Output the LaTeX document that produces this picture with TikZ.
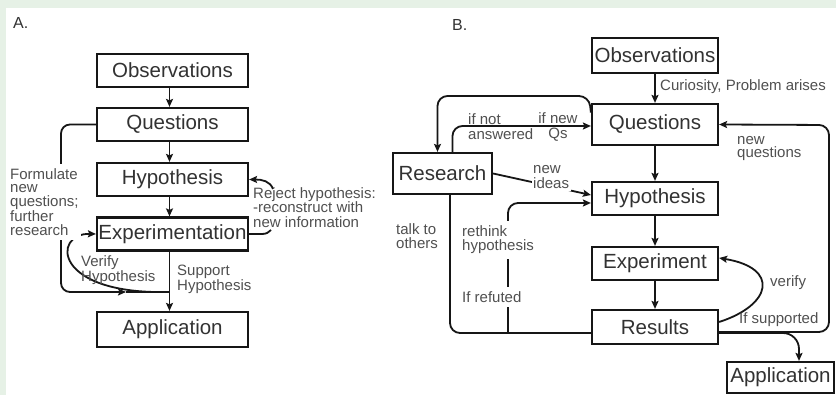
\documentclass[tikz,border=0pt]{standalone}
\usepackage{fontspec}
\setmainfont{Liberation Sans}
\usetikzlibrary{arrows.meta}
\definecolor{bgg}{RGB}{230,241,230}
\definecolor{ink}{RGB}{22,22,22}
\definecolor{txt}{RGB}{50,50,50}
\definecolor{lbl}{RGB}{80,80,80}
\begin{document}
\begin{tikzpicture}[x=1pt,y=-1pt,
  box/.style={draw=ink, line width=2.2pt, inner sep=0pt, font=\fontsize{20.5}{24}\selectfont, text=txt},
  abox/.style={box, minimum width=151, minimum height=33},
  bbox/.style={box, minimum width=126, minimum height=33},
  lab/.style={font=\fontsize{15}{13.8}\selectfont, text=lbl, align=left, inner sep=0pt, anchor=west},
  conn/.style={draw=ink, line width=1.8pt},
  arr/.style={conn, -{Stealth[length=8pt,width=7pt,inset=1.5pt]}},
]
\useasboundingbox (0,0) rectangle (836,395);
\fill[bgg] (0,0) rectangle (836,395);
\fill[white] (6,8) rectangle (836,395);

% ---------- Panel A ----------
\node[lab, text=txt, font=\fontsize{16}{18}\selectfont] (alab) at (13,23) {A.};
\node[abox] (aobs) at (172.5,70.5) {Observations};
\node[abox] (aq) at (172.5,124.5) {Questions};
\node[abox] (ah) at (172.5,179.5) {Hypothesis};
\node[abox] (aexp) at (172.5,234) {Experimentation};
\node[abox, minimum height=35] (aapp) at (172.5,329.5) {Application};

\draw[arr] ([xshift=-3pt]aobs.south) -- ([xshift=-3pt]aq.north);
\draw[arr] ([xshift=-3pt]aq.south) -- ([xshift=-3pt]ah.north);
\draw[arr] ([xshift=-3pt]ah.south) -- ([xshift=-3pt]aexp.north);
\draw[arr] ([xshift=-3pt]aexp.south) -- ([xshift=-3pt]aapp.north);

\coordinate (aj) at (169.5,292);
\coordinate (amid) at (126,292);
\draw[arr, rounded corners=9pt] (aq.west) -- (61,124.5) -- (61,292) -- (amid);
\draw[conn] (amid) -- (aj);
\draw[arr] (aj) .. controls (52,295) and (52,233) .. (aexp.west);

\node[lab, fill=white, inner xsep=2pt, inner ysep=4pt] (aform) at (8,202)
  {Formulate\\new\\questions;\\further\\research};
\node[lab] (aver) at (81,270) {Verify\\Hypothesis};
\node[lab] (asup) at (177,279.5) {Support\\Hypothesis};

\coordinate (arj) at (273,189);
\coordinate (are) at (271,230);
\draw[arr] (arj) .. controls (270,181) and (262,179.5) .. (ah.east);
\draw[conn] (aexp.east) -- (262,234) .. controls (266,234) and (269,232.5) .. (are);
\node[lab, font=\fontsize{15}{14.5}\selectfont] (arej) at (253,207.5)
  {Reject hypothesis:\\-reconstruct with\\new information};

% ---------- Panel B ----------
\node[lab, text=txt, font=\fontsize{16}{18}\selectfont] (blab) at (452,25) {B.};
\node[bbox, minimum height=35] (bobs) at (655,55.5) {Observations};
\node[bbox, minimum height=41] (bq) at (655,124.5) {Questions};
\node[bbox] (bh) at (655,198.5) {Hypothesis};
\node[bbox] (bexp) at (655,263.5) {Experiment};
\node[bbox, minimum height=34] (bres) at (655,327) {Results};
\node[box, minimum width=99, minimum height=41] (bresearch) at (442.5,173.5) {Research};
\node[box, minimum width=107, minimum height=31] (bapp) at (780.5,377.5) {Application};

\draw[arr] (bobs.south) -- (bq.north);
\draw[arr] (bq.south) -- (bh.north);
\draw[arr] (bh.south) -- (bexp.north);
\draw[arr] (bexp.south) -- (bres.north);
\node[lab] (bcur) at (660,87) {Curiosity, Problem arises};

% questions <-> research
\draw[arr, rounded corners=10pt] ([yshift=12pt]bq.west) -- (589,96) -- (437.5,96) -- ([xshift=-5pt]bresearch.north);
\draw[arr, rounded corners=10pt] ([xshift=10pt]bresearch.north) -- (452.5,126) -- ([yshift=-1.5pt]bq.west);
\node[lab, font=\fontsize{15}{15}\selectfont] (bnot) at (468,126.5) {if not\\answered};
\node[lab, align=center, anchor=center, font=\fontsize{15}{15}\selectfont] (bnew) at (558,126.5) {if new\\Qs};

% research -> hypothesis
\draw[arr] (bresearch.east) -- ([yshift=3.5pt]bh.west);
\node[lab, fill=white, inner sep=1.5pt, font=\fontsize{15}{15}\selectfont] (bideas) at (531.5,177.5) {new\\ideas};

% research -> results (talk to others)
\draw[conn, rounded corners=10pt] ([xshift=7.5pt]bresearch.south) -- (450,333) -- ([yshift=-6pt]bres.west);
\node[lab] (btalk) at (396,236) {talk to\\others};

% if refuted -> hypothesis
\coordinate (brj) at (508,333);
\draw[arr, rounded corners=10pt] (brj) -- (508,203) -- ([yshift=-4.5pt]bh.west);
\node[lab, fill=white, inner xsep=2pt, inner ysep=5pt] (brethink) at (460,240) {rethink\\hypothesis};
\node[lab, fill=white, inner xsep=2pt, inner ysep=4pt] (bref) at (460,297) {If refuted};

% right side
\draw[arr, rounded corners=10pt] ([yshift=-5pt]bres.east) -- (829,332) -- (829,125) -- (bq.east);
\node[lab] (bnq) at (737,148.5) {new\\questions};
\draw[arr] ([yshift=5pt]bres.east) .. controls (772,305) and (780,268) .. ([yshift=5.5pt]bexp.east);
\node[lab] (bver) at (770,283) {verify};
\node[lab] (bsup) at (739,320) {If supported};
\draw[arr, rounded corners=16pt] ([yshift=-6pt]bres.east) -- (799,333) -- ([xshift=18.5pt]bapp.north);
\end{tikzpicture}
\end{document}
